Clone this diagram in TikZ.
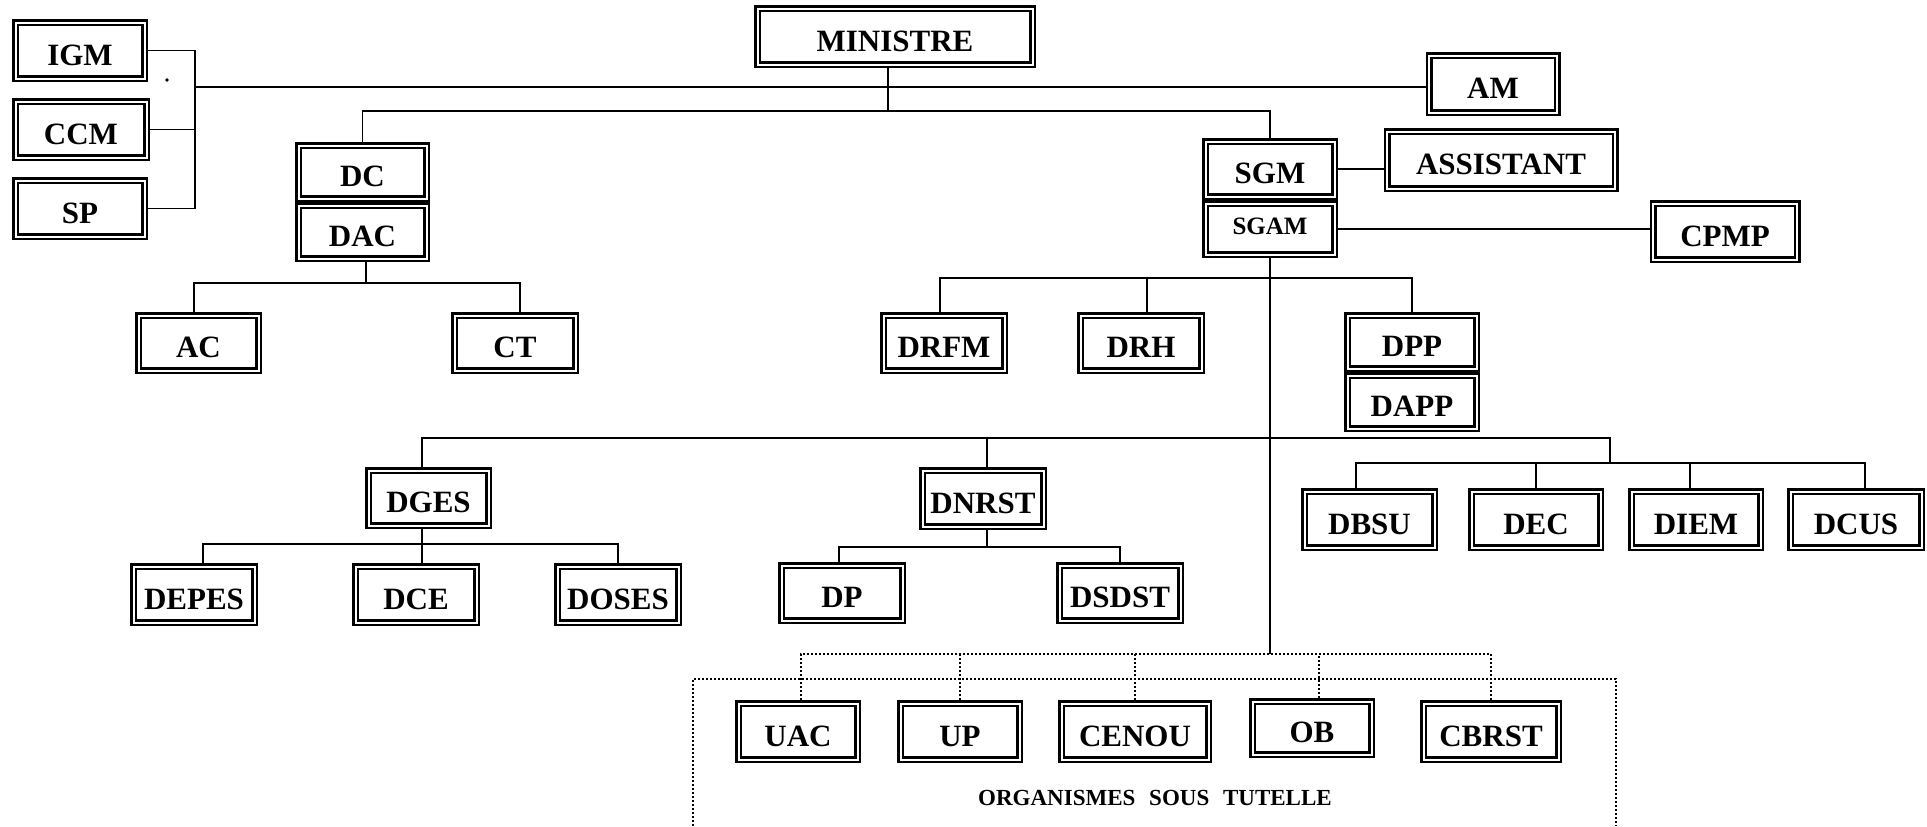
\documentclass[tikz,border=0pt]{standalone}
\usepackage{fontspec}
\setmainfont{Liberation Serif}
\newcommand\boxlab{\fontsize{15.5}{18}\selectfont\bfseries}
\begin{document}
\begin{tikzpicture}[x=0.5pt,y=-0.5pt,
 bx/.style={draw, line width=1.25pt, double, double distance=1pt, outer sep=1.75pt, inner sep=0pt, font=\boxlab, text height=14.8pt, text depth=0pt},
 sz/.style 2 args={minimum width={(#1-7)*0.5pt}, minimum height={(#2-7)*0.5pt}},
 small/.style={font=\fontsize{12.5}{14}\selectfont\bfseries, text height=5.9pt},
 conn/.style={line width=0.75pt},
 dots/.style={line width=0.75pt, dash pattern=on 1pt off 1pt}]
\useasboundingbox (0,0) rectangle (1927,826);
% nodes
\node[bx, sz={136}{63}] (IGM) at (80,50.5) {IGM};
\node[bx, sz={138}{63}] (CCM) at (81,129.5) {CCM};
\node[bx, sz={136}{63}] (SP) at (80,208.5) {SP};
\node[bx, sz={282}{63}] (MIN) at (895,36.5) {MINISTRE};
\node[bx, sz={135}{64}] (AM) at (1493,84) {AM};
\node[bx, sz={135}{60}] (DC) at (362.5,172) {DC};
\node[bx, sz={135}{60}] (DAC) at (362.5,232) {DAC};
\node[bx, sz={136}{62}] (SGM) at (1270,169) {SGM};
\node[bx, small, sz={136}{58}] (SGAM) at (1270,229) {SGAM};
\node[bx, sz={235}{64}] (ASS) at (1501,160) {ASSISTANT};
\node[bx, sz={151}{63}] (CPMP) at (1725,231.5) {CPMP};
\node[bx, sz={127}{62}] (AC) at (198.5,343) {AC};
\node[bx, sz={128}{62}] (CT) at (515,343) {CT};
\node[bx, sz={128}{62}] (DRFM) at (944,343) {DRFM};
\node[bx, sz={128}{62}] (DRH) at (1141,343) {DRH};
\node[bx, sz={136}{60}] (DPP) at (1412,342) {DPP};
\node[bx, sz={136}{60}] (DAPP) at (1412,402) {DAPP};
\node[bx, sz={127}{62}] (DGES) at (428.5,498) {DGES};
\node[bx, sz={128}{63}] (DNRST) at (983,498.5) {DNRST};
\node[bx, sz={137}{63}] (DBSU) at (1369.5,519.5) {DBSU};
\node[bx, sz={136}{63}] (DEC) at (1536,519.5) {DEC};
\node[bx, sz={136}{63}] (DIEM) at (1696,519.5) {DIEM};
\node[bx, sz={138}{63}] (DCUS) at (1856,519.5) {DCUS};
\node[bx, sz={128}{63}] (DEPES) at (194,594.5) {DEPES};
\node[bx, sz={128}{63}] (DCE) at (416,594.5) {DCE};
\node[bx, sz={128}{63}] (DOSES) at (618,594.5) {DOSES};
\node[bx, sz={128}{62}] (DP) at (842,593) {DP};
\node[bx, sz={128}{62}] (DSDST) at (1120,593) {DSDST};
\node[bx, sz={126}{63}] (UAC) at (798,731.5) {UAC};
\node[bx, sz={126}{63}] (UP) at (960,731.5) {UP};
\node[bx, sz={154}{63}] (CENOU) at (1135,731.5) {CENOU};
\node[bx, sz={126}{60}] (OB) at (1312,728) {OB};
\node[bx, sz={142}{63}] (CBRST) at (1491,731.5) {CBRST};
\node[font=\fontsize{11.5}{13}\selectfont\bfseries] (ost) at (1155,798) {ORGANISMES\hspace{0.6em}SOUS\hspace{0.6em}TUTELLE};
% small dot
\fill (167,80) circle[radius=0.9pt];
% connectors
\coordinate (br) at (195,87);
\draw[conn] (IGM.east) -| (br);
\draw[conn] (SP.east) -| (br);
\draw[conn] (CCM.east) -- (CCM.east -| br);
\draw[conn] (br) -- (br -| AM.west);
\coordinate (bus1) at (888,111);
\draw[conn] (bus1 |- MIN.south) -- (bus1);
\draw[conn] (DC.north) |- (bus1) -| (SGM.north);
\draw[conn] (SGM.east) -- (SGM.east -| ASS.west);
\draw[conn] (SGAM.east) -- (SGAM.east -| CPMP.west);
\coordinate (bus2) at (366,283);
\draw[conn] (bus2 |- DAC.south) -- (bus2);
\draw[conn] ([xshift=-2.25pt]AC.north) |- (bus2) -| ([xshift=2.5pt]CT.north);
\coordinate (org) at (1269,654);
\draw[conn] (SGAM.south) -- (SGAM.south |- org);
\coordinate (bus3) at (1269,278);
\draw[conn] ([xshift=-2pt]DRFM.north) |- (bus3) -| (DPP.north);
\draw[conn] ([xshift=3pt]DRH.north) -- ([xshift=3pt]DRH.north |- bus3);
\coordinate (b4L) at (422,438);
\coordinate (b4R) at (1610,438);
\coordinate (dbus) at (1610,463);
\draw[conn] (b4L |- DGES.north) -- (b4L) -- (b4R) -- (dbus);
\draw[conn] ([xshift=2pt]DNRST.north) -- ([xshift=2pt]DNRST.north |- b4L);
\draw[conn] ([xshift=-6.75pt]DBSU.north) |- (dbus) -| ([xshift=4.5pt]DCUS.north);
\draw[conn] (DEC.north) -- (DEC.north |- dbus);
\draw[conn] ([xshift=-3pt]DIEM.north) -- ([xshift=-3pt]DIEM.north |- dbus);
\coordinate (gb) at (422,544);
\draw[conn] (b4L |- DGES.south) -- (b4L |- DCE.north);
\draw[conn] ([xshift=4.5pt]DEPES.north) |- (gb) -| (DOSES.north);
\coordinate (nb) at (987,547);
\draw[conn] (nb |- DNRST.south) -- (nb);
\draw[conn] ([xshift=-1.5pt]DP.north) |- (nb) -| (DSDST.north);
% organismes
\draw[dots] ([xshift=1.5pt]UAC.north) |- (org) -| (CBRST.north);
\draw[dots] (UP.north) -- (UP.north |- org);
\draw[dots] (CENOU.north) -- (CENOU.north |- org);
\draw[dots] ([xshift=3.5pt]OB.north) -- ([xshift=3.5pt]OB.north |- org);
\coordinate (fTL) at (693,679);
\coordinate (fBR) at (1616,826);
\draw[dots] (fTL |- fBR) -- (fTL) -| (fBR);
\end{tikzpicture}
\end{document}
